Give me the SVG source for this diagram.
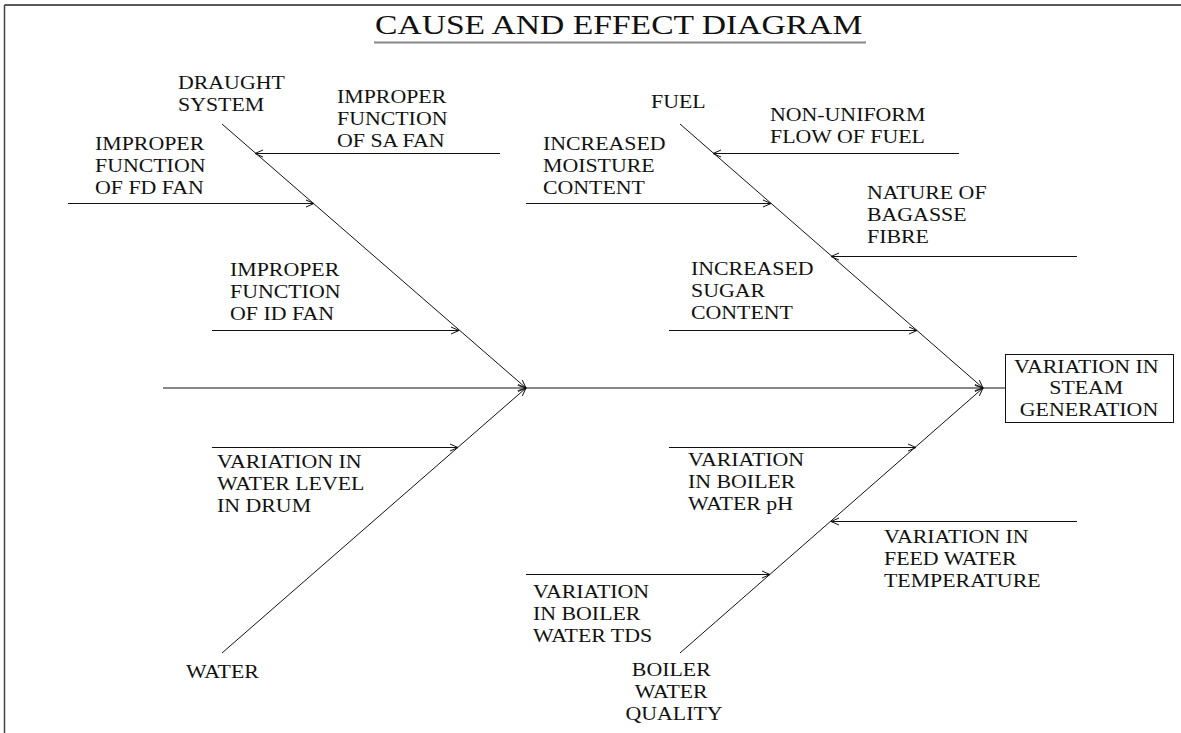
<svg xmlns="http://www.w3.org/2000/svg" width="1181" height="733" viewBox="0 0 1181 733">
  <style>
    .lbl { font-family: "Liberation Serif", "Times New Roman", serif; font-size: 19px; fill: #111; }
    .title { font-family: "Liberation Serif", "Times New Roman", serif; font-size: 28px; fill: #111; }
    .ln { stroke: #111; stroke-width: 1; fill: none; }
    .arr { stroke: #111; stroke-width: 1; fill: none; marker-end: url(#head); }
  </style>
  <defs>
    <marker id="head" viewBox="0 0 10 10" refX="9" refY="5" markerWidth="10" markerHeight="10" markerUnits="userSpaceOnUse" orient="auto">
      <path d="M1,1.5 L9,5 L1,8.5" fill="none" stroke="#111" stroke-width="1"/>
    </marker>
  </defs>
  <rect width="1181" height="733" fill="#fff"/>

  <!-- page frame (top and left edges) -->
  <g id="frame">
    <line x1="4.5" y1="5" x2="1181" y2="5" stroke="#222" stroke-width="1.5"/>
    <line x1="4.5" y1="5" x2="4.5" y2="733" stroke="#444" stroke-width="1.5"/>
  </g>

  <!-- heading -->
  <g id="title">
    <text class="title" transform="translate(375,34) scale(1.2,1)">CAUSE AND EFFECT DIAGRAM</text>
    <line x1="374" y1="42.5" x2="866" y2="42.5" stroke="#888" stroke-width="2"/>
  </g>

  <!-- connectors: spine, main bones and cause arrows -->
  <g id="connectors">
    <line class="arr" x1="163" y1="388" x2="526" y2="388"/>
    <line class="arr" x1="526" y1="388" x2="983" y2="388"/>
    <line class="ln" x1="983" y1="388" x2="1005" y2="388"/>

    <line class="arr" x1="222" y1="124" x2="526" y2="388"/>
    <line class="arr" x1="222" y1="653" x2="526" y2="388"/>
    <line class="arr" x1="680" y1="124" x2="983" y2="388"/>
    <line class="arr" x1="680" y1="653" x2="983" y2="388"/>

    <line class="arr" x1="500" y1="153.5" x2="255" y2="153.5"/>
    <line class="arr" x1="68" y1="203.5" x2="314" y2="203.5"/>
    <line class="arr" x1="212" y1="330.5" x2="459" y2="330.5"/>
    <line class="arr" x1="212" y1="447.5" x2="458" y2="447.5"/>

    <line class="arr" x1="959" y1="153.5" x2="713" y2="153.5"/>
    <line class="arr" x1="526" y1="203.5" x2="771" y2="203.5"/>
    <line class="arr" x1="1077" y1="256.5" x2="831" y2="256.5"/>
    <line class="arr" x1="669" y1="330.5" x2="917" y2="330.5"/>
    <line class="arr" x1="669" y1="447.5" x2="916" y2="447.5"/>
    <line class="arr" x1="1077" y1="521.5" x2="831" y2="521.5"/>
    <line class="arr" x1="526" y1="574.5" x2="770" y2="574.5"/>
  </g>

  <!-- effect box -->
  <g id="effect">
    <rect x="1005.5" y="354.5" width="168" height="68" fill="#fff" stroke="#111" stroke-width="1"/>
    <text class="lbl" text-anchor="middle" transform="translate(1089,373) scale(1.15,1)">
      <tspan x="0" y="0">VARIATION IN</tspan>
      <tspan x="0" y="21">STEAM</tspan>
      <tspan x="0" y="43">GENERATION</tspan>
    </text>
  </g>

  <!-- category heads -->
  <g id="draught">
    <text class="lbl" transform="translate(178,89) scale(1.15,1)">
      <tspan x="0" y="0">DRAUGHT</tspan>
      <tspan x="0" y="22">SYSTEM</tspan>
    </text>
  </g>
  <g id="fuel">
    <text class="lbl" transform="translate(651,108) scale(1.15,1)">FUEL</text>
  </g>
  <g id="water">
    <text class="lbl" transform="translate(186,678) scale(1.15,1)">WATER</text>
  </g>
  <g id="boiler-water-quality">
    <text class="lbl" text-anchor="middle" transform="translate(674,676) scale(1.15,1)">
      <tspan x="0" y="0">BOILER</tspan>
      <tspan x="0" y="22">WATER</tspan>
      <tspan x="0" y="44">QUALITY</tspan>
    </text>
  </g>

  <!-- causes -->
  <g id="sa-fan">
    <text class="lbl" transform="translate(337,103) scale(1.15,1)">
      <tspan x="0" y="0">IMPROPER</tspan>
      <tspan x="0" y="22">FUNCTION</tspan>
      <tspan x="0" y="44">OF SA FAN</tspan>
    </text>
  </g>
  <g id="fd-fan">
    <text class="lbl" transform="translate(95,150) scale(1.15,1)">
      <tspan x="0" y="0">IMPROPER</tspan>
      <tspan x="0" y="22">FUNCTION</tspan>
      <tspan x="0" y="44">OF FD FAN</tspan>
    </text>
  </g>
  <g id="id-fan">
    <text class="lbl" transform="translate(230,276) scale(1.15,1)">
      <tspan x="0" y="0">IMPROPER</tspan>
      <tspan x="0" y="22">FUNCTION</tspan>
      <tspan x="0" y="44">OF ID FAN</tspan>
    </text>
  </g>
  <g id="water-level">
    <text class="lbl" transform="translate(217,468) scale(1.15,1)">
      <tspan x="0" y="0">VARIATION IN</tspan>
      <tspan x="0" y="22">WATER LEVEL</tspan>
      <tspan x="0" y="44">IN DRUM</tspan>
    </text>
  </g>
  <g id="fuel-flow">
    <text class="lbl" transform="translate(770,121) scale(1.15,1)">
      <tspan x="0" y="0">NON-UNIFORM</tspan>
      <tspan x="0" y="22">FLOW OF FUEL</tspan>
    </text>
  </g>
  <g id="moisture">
    <text class="lbl" transform="translate(543,150) scale(1.15,1)">
      <tspan x="0" y="0">INCREASED</tspan>
      <tspan x="0" y="22">MOISTURE</tspan>
      <tspan x="0" y="44">CONTENT</tspan>
    </text>
  </g>
  <g id="bagasse">
    <text class="lbl" transform="translate(867,199) scale(1.15,1)">
      <tspan x="0" y="0">NATURE OF</tspan>
      <tspan x="0" y="22">BAGASSE</tspan>
      <tspan x="0" y="44">FIBRE</tspan>
    </text>
  </g>
  <g id="sugar">
    <text class="lbl" transform="translate(691,275) scale(1.15,1)">
      <tspan x="0" y="0">INCREASED</tspan>
      <tspan x="0" y="22">SUGAR</tspan>
      <tspan x="0" y="44">CONTENT</tspan>
    </text>
  </g>
  <g id="ph">
    <text class="lbl" transform="translate(688,466) scale(1.15,1)">
      <tspan x="0" y="0">VARIATION</tspan>
      <tspan x="0" y="22">IN BOILER</tspan>
      <tspan x="0" y="44">WATER pH</tspan>
    </text>
  </g>
  <g id="feed-water">
    <text class="lbl" transform="translate(884,543) scale(1.15,1)">
      <tspan x="0" y="0">VARIATION IN</tspan>
      <tspan x="0" y="22">FEED WATER</tspan>
      <tspan x="0" y="44">TEMPERATURE</tspan>
    </text>
  </g>
  <g id="tds">
    <text class="lbl" transform="translate(533,598) scale(1.15,1)">
      <tspan x="0" y="0">VARIATION</tspan>
      <tspan x="0" y="22">IN BOILER</tspan>
      <tspan x="0" y="44">WATER TDS</tspan>
    </text>
  </g>
</svg>
